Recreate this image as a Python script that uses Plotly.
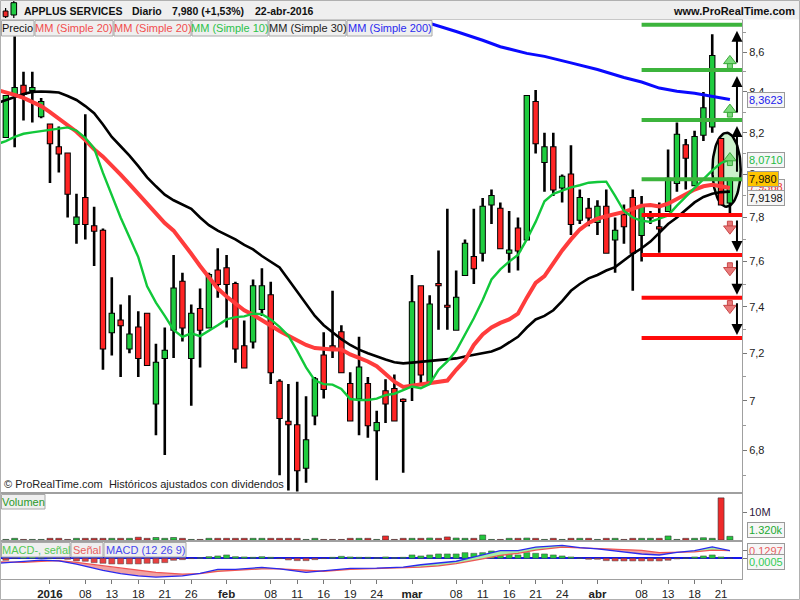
import numpy as np
import plotly.graph_objects as go

FONT = "Liberation Sans, Arial, sans-serif"

# ---------------- data ----------------
idx = list(range(-5, 78))  # bar index, 0 = 4 Jan 2016
opens = [8.18, 8.39, 8.43, 8.41, 8.28, 8.24, 8.13, 8.10, 7.77, 7.89,
         7.76, 7.74, 7.29, 7.34, 7.22, 7.31, 7.37, 6.99, 7.18, 7.30,
         7.51, 7.18, 7.39, 7.31, 7.56, 7.57, 7.50, 7.23, 7.25, 7.39,
         7.45, 7.08, 6.915, 6.90, 6.73, 6.94, 7.19, 7.23, 7.29, 7.07,
         7.01, 7.07, 6.88, 7.04, 7.05, 7.005, 7.07, 7.49, 7.08, 7.50,
         7.405, 7.30, 7.54, 7.62, 7.64, 7.86, 7.84, 7.64, 7.75, 7.70,
         8.35, 8.06, 8.13, 7.94, 8.00, 7.79, 7.84, 7.78, 7.85, 7.70,
         7.81, 7.89, 7.72, 7.80, 7.755, 7.83, 7.96, 8.14, 7.95, 8.19,
         8.23, 8.17, 7.87]
highs = [8.38, 8.68, 8.50, 8.50, 8.37, 8.24, 8.23, 8.10, 7.91, 8.29,
         7.85, 7.75, 7.53, 7.41, 7.45, 7.38, 7.37, 7.24, 7.31, 7.63,
         7.55, 7.41, 7.48, 7.55, 7.66, 7.63, 7.51, 7.34, 7.52, 7.57,
         7.51, 7.09, 7.07, 7.08, 7.02, 7.10, 7.29, 7.47, 7.32, 7.12,
         7.27, 7.10, 6.96, 7.09, 7.11, 7.01, 7.54, 7.49, 7.45, 7.65,
         7.84, 7.56, 7.70, 7.84, 7.89, 7.93, 7.87, 7.83, 7.80, 8.38,
         8.41, 8.20, 8.20, 8.00, 8.14, 7.93, 7.89, 7.88, 7.93, 7.80,
         7.86, 7.93, 7.90, 7.83, 7.87, 8.12, 8.25, 8.17, 8.21, 8.40,
         8.69, 8.17, 7.98]
lows = [8.18, 8.13, 8.26, 8.25, 8.27, 7.96, 8.01, 7.80, 7.68, 7.70,
        7.58, 7.13, 7.19, 7.10, 7.20, 7.10, 7.15, 6.86, 6.78, 7.18,
        7.25, 6.98, 7.14, 7.31, 7.44, 7.31, 7.16, 7.14, 7.22, 7.36,
        7.07, 6.70, 6.64, 6.62, 6.67, 6.90, 7.01, 7.18, 7.12, 6.92,
        6.86, 6.85, 6.68, 6.91, 6.92, 6.71, 7.00, 7.07, 7.08, 7.30,
        7.30, 7.30, 7.54, 7.50, 7.60, 7.77, 7.66, 7.55, 7.56, 7.70,
        8.10, 7.92, 7.90, 7.87, 7.72, 7.77, 7.76, 7.72, 7.64, 7.55,
        7.68, 7.47, 7.60, 7.77, 7.64, 7.83, 7.92, 7.93, 7.95, 8.16,
        8.20, 7.86, 7.82]
closes = [8.38, 8.42, 8.39, 8.42, 8.35, 8.15, 8.10, 7.91, 7.80, 7.77,
          7.74, 7.22, 7.37, 7.32, 7.28, 7.18, 7.15, 7.16, 7.21, 7.48,
          7.31, 7.37, 7.30, 7.54, 7.50, 7.50, 7.22, 7.14, 7.49, 7.49,
          7.12, 6.93, 6.905, 6.72, 6.84, 7.09, 7.05, 7.22, 7.12, 6.92,
          7.14, 6.90, 6.91, 6.99, 6.92, 7.00, 7.42, 7.11, 7.41, 7.495,
          7.40, 7.44, 7.68, 7.57, 7.85, 7.90, 7.66, 7.65, 7.65, 8.38,
          8.15, 8.13, 7.93, 7.99, 7.77, 7.89, 7.80, 7.85, 7.64, 7.74,
          7.76, 7.64, 7.85, 7.81, 7.75, 7.98, 8.19, 8.08, 8.18, 8.32,
          8.58, 7.86, 7.98]
volumes_m = [0.2, 0.6, 0.2, 0.2, 0.2, 0.6, 0.6, 0.2, 0.6, 0.6,
             0.6, 0.6, 0.6, 0.6, 0.6, 1.0, 0.6, 0.9, 0.6, 0.9,
             0.6, 0.2, 0.2, 0.6, 0.6, 0.6, 0.6, 0.6, 0.6, 0.6,
             0.6, 0.6, 0.6, 0.6, 0.2, 0.6, 0.2, 0.2, 0.2, 0.6,
             0.6, 0.6, 0.2, 1.45, 0.2, 0.6, 0.6, 0.6, 0.7, 0.6,
             1.1, 0.7, 0.6, 0.6, 1.8, 0.2, 0.2, 0.6, 0.6, 0.7,
             0.6, 0.2, 0.6, 0.2, 0.6, 0.6, 0.6, 0.2, 0.6, 0.6,
             0.2, 0.6, 0.6, 0.6, 0.6, 1.45, 0.2, 0.6, 0.6, 0.8,
             0.6, 15.2, 1.32]
macd_hist = [-0.034, 0.0, 0.028, 0.028, 0.01, 0.005, -0.005, -0.017, -0.045, -0.051,
             -0.074, -0.085, -0.096, -0.096, -0.096, -0.096, -0.085, -0.085, -0.074, -0.034,
             -0.023, -0.005, 0.01, 0.028, 0.04, 0.057, 0.028, 0.023, 0.017, 0.028,
             0.017, -0.005, -0.028, -0.04, -0.04, -0.023, -0.005, 0.017, 0.034, 0.023,
             0.017, 0.017, 0.008, 0.023, 0.01, 0.017, 0.057, 0.04, 0.057, 0.074,
             0.074, 0.074, 0.096, 0.085, 0.096, 0.125, 0.096, 0.085, 0.057, 0.096,
             0.085, 0.074, 0.057, 0.04, 0.023, 0.004, -0.017, -0.017, -0.04, -0.045,
             -0.045, -0.045, -0.045, -0.045, -0.045, -0.034, -0.01, 0.004, 0.023, 0.04,
             0.057, 0.023, 0.0005]

ma_idx = list(range(-6, 78))
ma10 = [8.145, 8.16, 8.18, 8.195, 8.202, 8.207, 8.213, 8.22, 8.226, 8.21,
        8.175, 8.125, 8.008, 7.905, 7.80, 7.71, 7.62, 7.49, 7.418, 7.36,
        7.30, 7.27, 7.285, 7.273, 7.295, 7.32, 7.345, 7.355, 7.358, 7.37,
        7.368, 7.345, 7.313, 7.275, 7.21, 7.14, 7.085, 7.07, 7.068, 7.05,
        7.008, 7.004, 7.004, 7.01, 7.024, 7.03, 7.045, 7.06, 7.053, 7.07,
        7.13, 7.165, 7.21, 7.28, 7.35, 7.43, 7.52, 7.565, 7.60, 7.63,
        7.70, 7.78, 7.875, 7.91, 7.925, 7.94, 7.95, 7.962, 7.965, 7.967,
        7.90, 7.83, 7.80, 7.785, 7.78, 7.795, 7.81, 7.855, 7.895, 7.935,
        7.975, 8.02, 8.055, 8.071]
ma20 = [8.41, 8.40, 8.385, 8.37, 8.35, 8.33, 8.30, 8.27, 8.24, 8.205,
        8.165, 8.12, 8.085, 8.045, 8.00, 7.955, 7.91, 7.86, 7.815, 7.775,
        7.74, 7.69, 7.635, 7.58, 7.53, 7.48, 7.445, 7.415, 7.385, 7.365,
        7.34, 7.32, 7.295, 7.275, 7.255, 7.235, 7.222, 7.217, 7.216, 7.216,
        7.195, 7.18, 7.165, 7.145, 7.115, 7.08, 7.058, 7.063, 7.068, 7.072,
        7.076, 7.085, 7.13, 7.17, 7.235, 7.28, 7.31, 7.33, 7.345, 7.37,
        7.44, 7.505, 7.535, 7.595, 7.65, 7.70, 7.745, 7.775, 7.795, 7.806,
        7.815, 7.826, 7.84, 7.855, 7.858, 7.851, 7.864, 7.885, 7.91, 7.93,
        7.945, 7.952, 7.945, 7.937]
ma30 = [8.345, 8.36, 8.378, 8.39, 8.40, 8.402, 8.40, 8.397, 8.38, 8.36,
        8.33, 8.295, 8.24, 8.18, 8.135, 8.09, 8.04, 7.987, 7.945, 7.906,
        7.88, 7.86, 7.84, 7.80, 7.765, 7.74, 7.72, 7.70, 7.675, 7.655,
        7.625, 7.60, 7.574, 7.52, 7.468, 7.415, 7.36, 7.32, 7.288, 7.26,
        7.235, 7.215, 7.20, 7.185, 7.173, 7.162, 7.157, 7.16, 7.163, 7.166,
        7.169, 7.172, 7.178, 7.186, 7.192, 7.20, 7.207, 7.222, 7.245, 7.27,
        7.31, 7.345, 7.36, 7.385, 7.425, 7.47, 7.50, 7.525, 7.54, 7.56,
        7.575, 7.605, 7.635, 7.66, 7.69, 7.73, 7.77, 7.80, 7.835, 7.87,
        7.895, 7.91, 7.918, 7.92]
ma200_idx = [41, 43, 46, 49, 51, 54, 56, 59, 62, 65, 67, 69, 71, 73, 75, 77]
ma200 = [8.775, 8.748, 8.705, 8.66, 8.627, 8.593, 8.578, 8.545, 8.512,
         8.472, 8.449, 8.419, 8.403, 8.393, 8.377, 8.362]

macd_idx = [-6, -3, -1, 1, 3, 6, 8, 10, 12, 15, 17, 19, 21, 24, 26, 29, 31, 34, 37,
            40, 42, 44, 46, 49, 51, 53, 55, 58, 60, 62, 65, 67, 69, 71, 73, 75, 77]
macd_line = [-0.085, -0.055, -0.03, -0.045, -0.10, -0.205, -0.26, -0.30, -0.32, -0.30,
             -0.255, -0.19, -0.187, -0.155, -0.18, -0.24, -0.215, -0.17, -0.168, -0.15,
             -0.11, -0.085, -0.05, 0.06, 0.13, 0.13, 0.19, 0.22, 0.18, 0.16,
             0.115, 0.073, 0.056, 0.10, 0.13, 0.195, 0.1302]
signal_line = [-0.06, -0.07, -0.05, -0.04, -0.07, -0.13, -0.17, -0.20, -0.24, -0.27,
               -0.26, -0.22, -0.20, -0.18, -0.18, -0.205, -0.22, -0.19, -0.175, -0.165,
               -0.15, -0.13, -0.09, -0.01, 0.05, 0.085, 0.14, 0.19, 0.18, 0.17,
               0.155, 0.135, 0.095, 0.10, 0.11, 0.14, 0.1297]

green_levels = [8.739, 8.509, 8.262, 7.978]
red_levels = [7.812, 7.63, 7.44, 7.265]
level_start = 67.0
up_arrow_prices = [8.545, 8.303, 8.069]
down_arrow_prices = [7.758, 7.570, 7.403]

tick_idx = [0, 4, 7, 10, 13, 16, 20, 25, 28, 31, 34, 37, 41, 46, 49, 52, 55, 58,
            62, 67, 70, 73, 76]
tick_text = ["<b>2016</b>", "08", "13", "18", "21", "26", "<b>feb</b>", "08", "11",
             "16", "19", "24", "<b>mar</b>", "08", "11", "16", "21", "24",
             "<b>abr</b>", "08", "13", "18", "21"]
price_ticks = [6.8, 7.0, 7.2, 7.4, 7.6, 7.8, 8.0, 8.2, 8.4, 8.6]
price_tick_text = ["6,8", "7", "7,2", "7,4", "7,6", "7,8", "8", "8,2", "8,4", "8,6"]
price_minor = [6.7, 6.9, 7.1, 7.3, 7.5, 7.7, 7.9, 8.1, 8.3, 8.5, 8.7]

# ---------------- geometry ----------------
W, H = 800, 600
ML, MR, MT, MB = 0, 58, 20, 21
PW, PH = W - ML - MR, H - MT - MB
XR = [-5.66, 78.37]
PRICE_LO, PRICE_HI = 6.636, 8.764
VOL_TOP = 16.6e6
MACD_LO, MACD_HI = -0.352, 0.277
PX_PER_LN = 1694.0


def px_x(px):
    return (px - ML) / PW


def px_y(py):
    return (H - MB - py) / PH


def px_shift(price, px):
    # move a price by px pixels upward on the log scale
    return price * np.exp(px / PX_PER_LN)


fig = go.Figure()

# ellipse highlight (drawn behind candles)
t = np.linspace(0, 2 * np.pi, 80)
ecx, ecy, erx, ery = 76.62, 8.023, 1.6, 0.0218
fig.add_trace(go.Scatter(x=ecx + erx * np.cos(t), y=ecy * np.exp(ery * np.sin(t)),
                         mode="lines", fill="toself", fillcolor="rgba(170,232,170,0.6)",
                         line=dict(color="black", width=2.5), xaxis="x", yaxis="y",
                         hoverinfo="skip"))

# wicks
wx, wy = [], []
for i, h, l in zip(idx, highs, lows):
    wx += [i, i, None]
    wy += [l, h, None]
fig.add_trace(go.Scatter(x=wx, y=wy, mode="lines", line=dict(color="black", width=2.6),
                         xaxis="x", yaxis="y", hoverinfo="skip"))

# candle bodies: black outline segment + coloured inner segment
bx, by = [], []
gx_, gy_, rx_, ry_ = [], [], [], []
for i, o, c in zip(idx, opens, closes):
    lo, hi = min(o, c), max(o, c)
    bx += [i, i, None]
    by += [px_shift(lo, -1.0), px_shift(hi, 1.0), None]
    if c >= o:
        gx_ += [i, i, None]
        gy_ += [lo, hi, None]
    else:
        rx_ += [i, i, None]
        ry_ += [lo, hi, None]
fig.add_trace(go.Scatter(x=bx, y=by, mode="lines", line=dict(color="black", width=6.4),
                         xaxis="x", yaxis="y", hoverinfo="skip"))
fig.add_trace(go.Scatter(x=gx_, y=gy_, mode="lines", line=dict(color="#1fcc3f", width=4.4),
                         xaxis="x", yaxis="y", hoverinfo="skip"))
fig.add_trace(go.Scatter(x=rx_, y=ry_, mode="lines", line=dict(color="#ff2424", width=4.4),
                         xaxis="x", yaxis="y", hoverinfo="skip"))

# moving averages
fig.add_trace(go.Scatter(x=ma_idx, y=ma30, mode="lines", line=dict(color="black", width=2.6),
                         xaxis="x", yaxis="y", hoverinfo="skip"))
fig.add_trace(go.Scatter(x=ma_idx, y=ma20, mode="lines", line=dict(color="#ff3c3c", width=4),
                         xaxis="x", yaxis="y", hoverinfo="skip"))
fig.add_trace(go.Scatter(x=ma_idx, y=ma10, mode="lines", line=dict(color="#11c83a", width=2.4),
                         xaxis="x", yaxis="y", hoverinfo="skip"))
fig.add_trace(go.Scatter(x=ma200_idx, y=ma200, mode="lines", line=dict(color="#0a0aff", width=3),
                         xaxis="x", yaxis="y", hoverinfo="skip"))

# support / resistance levels
for lev in green_levels:
    fig.add_trace(go.Scatter(x=[level_start, XR[1]], y=[lev, lev], mode="lines",
                             line=dict(color="#3cb43c", width=4), xaxis="x", yaxis="y",
                             hoverinfo="skip"))
for lev in red_levels:
    fig.add_trace(go.Scatter(x=[level_start, XR[1]], y=[lev, lev], mode="lines",
                             line=dict(color="#ff0a0a", width=4), xaxis="x", yaxis="y",
                             hoverinfo="skip"))

# light block arrows
ARX = 77.0
fig.add_trace(go.Scatter(x=[ARX] * 3, y=[px_shift(p, -3) for p in up_arrow_prices], mode="markers",
                         marker=dict(symbol="square", size=5, color="#7ddc7d",
                                     line=dict(color="#3aa83a", width=1)),
                         xaxis="x", yaxis="y", hoverinfo="skip"))
fig.add_trace(go.Scatter(x=[ARX] * 3, y=[px_shift(p, 2) for p in up_arrow_prices], mode="markers",
                         marker=dict(symbol="triangle-up", size=11, color="#7ddc7d",
                                     line=dict(color="#3aa83a", width=1)),
                         xaxis="x", yaxis="y", hoverinfo="skip"))
fig.add_trace(go.Scatter(x=[ARX] * 3, y=[px_shift(p, 3) for p in down_arrow_prices], mode="markers",
                         marker=dict(symbol="square", size=5, color="#e97a7a",
                                     line=dict(color="#c84848", width=1)),
                         xaxis="x", yaxis="y", hoverinfo="skip"))
fig.add_trace(go.Scatter(x=[ARX] * 3, y=[px_shift(p, -2) for p in down_arrow_prices], mode="markers",
                         marker=dict(symbol="triangle-down", size=11, color="#e97a7a",
                                     line=dict(color="#c84848", width=1)),
                         xaxis="x", yaxis="y", hoverinfo="skip"))

# volume
vol_colors = ["#22c83c" if c >= o else "#ee2a2a" for o, c in zip(opens, closes)]
fig.add_trace(go.Bar(x=idx, y=[v * 1e6 for v in volumes_m], width=0.68,
                     marker=dict(color=vol_colors, line=dict(color="#333", width=0.6)),
                     xaxis="x2", yaxis="y2", hoverinfo="skip"))

# MACD fills
gx, gy, rx, ry = [], [], [], []
for k in range(len(macd_idx) - 1):
    x0, x1 = macd_idx[k], macd_idx[k + 1]
    m0, m1 = macd_line[k], macd_line[k + 1]
    s0, s1 = signal_line[k], signal_line[k + 1]
    d0, d1 = m0 - s0, m1 - s1
    pieces = []
    if d0 * d1 < 0:
        tc = d0 / (d0 - d1)
        xc = x0 + tc * (x1 - x0)
        yc = m0 + tc * (m1 - m0)
        pieces.append(([x0, xc, x0, x0], [m0, yc, s0, m0], d0))
        pieces.append(([xc, x1, x1, xc], [yc, m1, s1, yc], d1))
    else:
        pieces.append(([x0, x1, x1, x0, x0], [m0, m1, s1, s0, m0], d0 + d1))
    for px_, py_, d in pieces:
        if d >= 0:
            gx += px_ + [None]
            gy += py_ + [None]
        else:
            rx += px_ + [None]
            ry += py_ + [None]
fig.add_trace(go.Scatter(x=gx, y=gy, mode="lines", fill="toself", fillcolor="#a6eea6",
                         line=dict(width=0), xaxis="x3", yaxis="y3", hoverinfo="skip"))
fig.add_trace(go.Scatter(x=rx, y=ry, mode="lines", fill="toself", fillcolor="#f0a2a2",
                         line=dict(width=0), xaxis="x3", yaxis="y3", hoverinfo="skip"))
hist_colors = ["#22c83c" if h >= 0 else "#e84040" for h in macd_hist]
fig.add_trace(go.Bar(x=idx, y=macd_hist, width=0.68,
                     marker=dict(color=hist_colors, line=dict(color="#444", width=0.5)),
                     xaxis="x3", yaxis="y3", hoverinfo="skip"))
fig.add_trace(go.Scatter(x=macd_idx, y=signal_line, mode="lines",
                         line=dict(color="#ee5555", width=1.3), xaxis="x3", yaxis="y3",
                         hoverinfo="skip"))
fig.add_trace(go.Scatter(x=macd_idx, y=macd_line, mode="lines",
                         line=dict(color="#2a2aee", width=1.3), xaxis="x3", yaxis="y3",
                         hoverinfo="skip"))

# ---------------- layout ----------------
AXC = "#a0a0a0"
dom_price = [px_y(491.5), 1.0]
dom_vol = [px_y(540), px_y(494)]
dom_macd = [0.0, px_y(542)]

common_x = dict(range=XR, showgrid=False, zeroline=False, showline=True, mirror=True,
                linecolor=AXC, linewidth=1)
fig.update_layout(
    width=W, height=H, margin=dict(l=ML, r=MR, t=MT, b=MB, pad=0),
    paper_bgcolor="white", plot_bgcolor="white", showlegend=False,
    font=dict(family=FONT, size=11, color="#222"), hovermode=False,
    xaxis=dict(domain=[0, 1], anchor="y", showticklabels=False, ticks="", **common_x),
    xaxis2=dict(domain=[0, 1], anchor="y2", matches="x", showticklabels=False, ticks="",
                **common_x),
    xaxis3=dict(domain=[0, 1], anchor="y3", matches="x", tickmode="array",
                tickvals=tick_idx, ticktext=tick_text, ticks="outside", ticklen=4,
                tickcolor="#777", tickfont=dict(size=11.5, color="#222", family=FONT),
                **common_x),
    yaxis=dict(domain=dom_price, anchor="x", type="log", side="right",
               range=[np.log10(PRICE_LO), np.log10(PRICE_HI)],
               tickmode="array", tickvals=price_ticks, ticktext=price_tick_text,
               ticks="outside", ticklen=4, tickcolor="#777",
               tickfont=dict(size=11, color="#222", family=FONT),
               minor=dict(tickmode="array", tickvals=price_minor, ticks="outside",
                          ticklen=3, tickcolor="#999", showgrid=False),
               showgrid=False, zeroline=False, showline=True, mirror=True,
               linecolor=AXC, linewidth=1),
    yaxis2=dict(domain=dom_vol, anchor="x2", side="right", range=[0, VOL_TOP],
                tickmode="array", tickvals=[10e6], ticktext=["10M"], ticks="outside",
                ticklen=4, tickcolor="#777", tickfont=dict(size=11, color="#302040"),
                showgrid=False, zeroline=False, showline=True, mirror=True,
                linecolor=AXC, linewidth=1),
    yaxis3=dict(domain=dom_macd, anchor="x3", side="right", range=[MACD_LO, MACD_HI],
                tickmode="array", tickvals=[0.13, 0.0], ticktext=["", ""], ticks="outside",
                ticklen=4, tickcolor="#777", showgrid=False, zeroline=True,
                zerolinecolor="#1515ee", zerolinewidth=1.5, showline=True, mirror=True,
                linecolor=AXC, linewidth=1),
)

shapes = []
annotations = []

# header bar
shapes.append(dict(type="rect", xref="paper", yref="paper", x0=px_x(0), x1=px_x(800),
                   y0=px_y(19.5), y1=px_y(0), fillcolor="#efefef", line=dict(width=0),
                   layer="above"))
# header icon (two little candles)
shapes += [
    dict(type="line", xref="paper", yref="paper", x0=px_x(5.6), x1=px_x(5.6), y0=px_y(18),
         y1=px_y(8), line=dict(color="black", width=1.2), layer="above"),
    dict(type="rect", xref="paper", yref="paper", x0=px_x(3.2), x1=px_x(8), y0=px_y(16.7),
         y1=px_y(11), fillcolor="#ee2a2a", line=dict(color="black", width=1), layer="above"),
    dict(type="line", xref="paper", yref="paper", x0=px_x(13.8), x1=px_x(13.8), y0=px_y(18),
         y1=px_y(0.5), line=dict(color="black", width=1.2), layer="above"),
    dict(type="rect", xref="paper", yref="paper", x0=px_x(11), x1=px_x(16.6), y0=px_y(15),
         y1=px_y(2.7), fillcolor="#22cc44", line=dict(color="black", width=1), layer="above"),
]
for txt, x0 in [("APPLUS SERVICES", 22), ("Diario", 130), ("7,980 (+1,53%)", 170),
                ("22-abr-2016", 253)]:
    annotations.append(dict(text="<b>" + txt + "</b>", xref="paper", yref="paper",
                            x=px_x(x0), y=px_y(10.5), xanchor="left", yanchor="middle",
                            showarrow=False, font=dict(size=10.5, color="#111", family=FONT)))
annotations.append(dict(text="<b>www.ProRealTime.com</b>", xref="paper", yref="paper",
                        x=px_x(797), y=px_y(10.5), xanchor="right", yanchor="middle",
                        showarrow=False, font=dict(size=11, color="#111", family=FONT)))


def label_box(x0, x1, y0, y1, text, color):
    shapes.append(dict(type="rect", xref="paper", yref="paper", x0=px_x(x0), x1=px_x(x1),
                       y0=px_y(y1), y1=px_y(y0), fillcolor="#efefef",
                       line=dict(color="#a8a8a8", width=1), layer="above"))
    annotations.append(dict(text=text, xref="paper", yref="paper", x=px_x((x0 + x1) / 2),
                            y=px_y((y0 + y1) / 2), xanchor="center", yanchor="middle",
                            showarrow=False, font=dict(size=11, color=color, family=FONT)))


label_box(1.5, 34, 20.5, 36, "Precio", "#111")
label_box(35, 113, 20.5, 36, "MM (Simple 20)", "#f24e4e")
label_box(114, 191, 20.5, 36, "MM (Simple 20)", "#f24e4e")
label_box(192, 268, 20.5, 36, "MM (Simple 10)", "#2cc24a")
label_box(269, 346, 20.5, 36, "MM (Simple 30)", "#222")
label_box(347, 432, 20.5, 36, "MM (Simple 200)", "#2a2af0")
label_box(1.5, 45, 494.5, 509, "Volumen", "#2a9a2a")
label_box(1.5, 70, 542.5, 557, "MACD-, señal", "#55c855")
label_box(71, 103, 542.5, 557, "Señal", "#e86060")
label_box(104, 186, 542.5, 557, "MACD (12 26 9)", "#4848ee")

annotations.append(dict(text="© ProRealTime.com  Históricos ajustados con dividendos",
                        xref="paper", yref="paper", x=px_x(2), y=px_y(484),
                        xanchor="left", yanchor="middle", showarrow=False,
                        font=dict(size=11, color="#222", family=FONT)))

# black arrows between levels
AX = 77.8
for lo, hi in zip(green_levels[::-1][:-1], green_levels[::-1][1:]):
    annotations.append(dict(x=AX, y=np.log10(hi), ax=AX, ay=np.log10(lo), xref="x",
                            yref="y", axref="x", ayref="y", text="", showarrow=True,
                            arrowhead=2, arrowsize=1.1, arrowwidth=2, arrowcolor="black",
                            standoff=6, startstandoff=6))
for hi, lo in zip(red_levels[:-1], red_levels[1:]):
    annotations.append(dict(x=AX, y=np.log10(lo), ax=AX, ay=np.log10(hi), xref="x",
                            yref="y", axref="x", ayref="y", text="", showarrow=True,
                            arrowhead=2, arrowsize=1.1, arrowwidth=2, arrowcolor="black",
                            standoff=3, startstandoff=4))


def value_box(price, text, color, bg="#f6f6f6", yshift=0, yref="y", logy=True):
    annotations.append(dict(text=text, xref="paper", yref=yref, x=px_x(747),
                            y=np.log10(price) if logy else price, xanchor="left",
                            yanchor="middle", showarrow=False, bgcolor=bg,
                            bordercolor="#9a9a9a", borderwidth=1, borderpad=1,
                            yshift=yshift, font=dict(size=11, color=color, family=FONT)))


value_box(8.3623, "8,3623", "#1a1aee")
value_box(8.0710, "8,0710", "#22bb44")
value_box(7.9368, "7,9368", "#ee3333", yshift=1)
value_box(7.980, "7,980", "#111", bg="#ffc400")
value_box(7.9198, "7,9198", "#111", yshift=-6)
value_box(0.1297, "0,1297", "#e86060", yref="y3", logy=False)
value_box(0.0005, "0,0005", "#33cc55", yref="y3", logy=False, yshift=-4)
annotations.append(dict(text="1.320k", xref="paper", yref="paper", x=px_x(747), y=px_y(530),
                        xanchor="left", yanchor="middle", showarrow=False, bgcolor="#f6f6f6",
                        bordercolor="#9a9a9a", borderwidth=1, borderpad=1,
                        font=dict(size=11, color="#22aa33", family=FONT)))

# outer frame
shapes.append(dict(type="rect", xref="paper", yref="paper", x0=px_x(0.5), x1=px_x(799.5),
                   y0=px_y(599.5), y1=px_y(0.5), line=dict(color="#b0b0b0", width=1),
                   fillcolor="rgba(0,0,0,0)", layer="above"))

fig.update_layout(shapes=shapes, annotations=annotations)
fig.write_html("out.html", config={"displayModeBar": False},
               post_script="document.body.style.margin='0px';document.body.style.overflow='hidden';")
